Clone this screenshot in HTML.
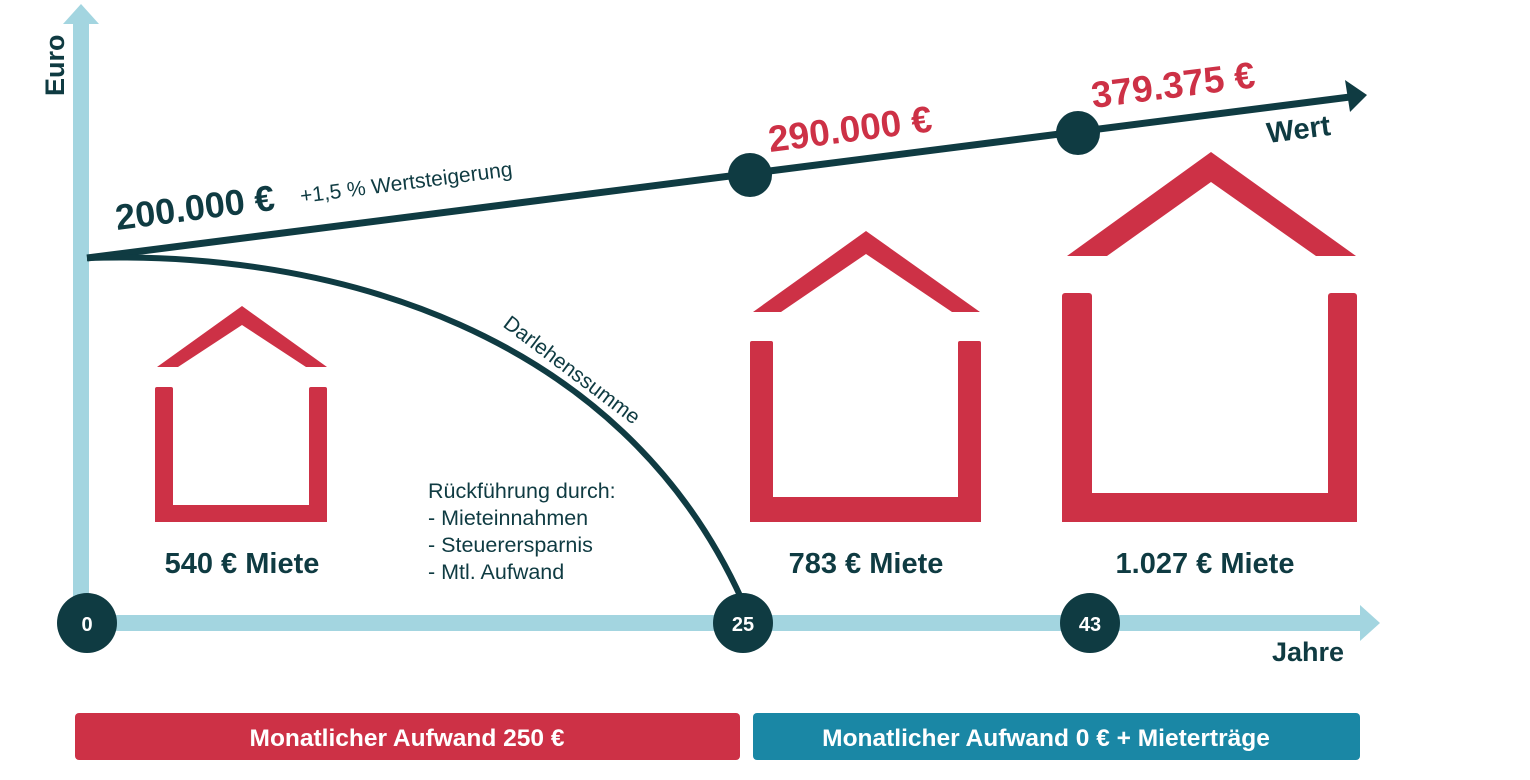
<!DOCTYPE html>
<html><head><meta charset="utf-8"><style>
html,body{margin:0;padding:0;background:#fff;}
svg{display:block;font-family:"Liberation Sans",sans-serif;}
</style></head><body>
<svg width="1530" height="780" viewBox="0 0 1530 780" xmlns="http://www.w3.org/2000/svg">
<rect x="73" y="22" width="16" height="600" fill="#a3d5e0"/>
<polygon points="81,4 99,24 63,24" fill="#a3d5e0"/>
<rect x="87" y="615" width="1275" height="16" fill="#a3d5e0"/>
<polygon points="1380,623 1360,605 1360,641" fill="#a3d5e0"/>
<text x="0" y="0" transform="translate(64,96) rotate(-90)" font-size="27" font-weight="bold" fill="#0f3b42">Euro</text>
<text x="1272" y="661" font-size="27" font-weight="bold" fill="#0f3b42">Jahre</text>
<line x1="87" y1="258" x2="1350" y2="97" stroke="#0f3b42" stroke-width="7"/>
<polygon points="1367,95 1345,80 1350,112" fill="#0f3b42"/>
<path d="M87,258 C330,250 620,330 742,600" fill="none" stroke="#0f3b42" stroke-width="6"/>
<circle cx="750" cy="175" r="22" fill="#0f3b42"/>
<circle cx="1078" cy="133" r="22" fill="#0f3b42"/>
<circle cx="87" cy="623" r="30" fill="#0f3b42"/>
<circle cx="743" cy="623" r="30" fill="#0f3b42"/>
<circle cx="1090" cy="623" r="30" fill="#0f3b42"/>
<text x="87" y="631" font-size="20" font-weight="bold" fill="#fff" text-anchor="middle">0</text>
<text x="743" y="631" font-size="20" font-weight="bold" fill="#fff" text-anchor="middle">25</text>
<text x="1090" y="631" font-size="20" font-weight="bold" fill="#fff" text-anchor="middle">43</text>
<text transform="translate(117,230) rotate(-7.3)" font-size="36" font-weight="bold" fill="#0f3b42">200.000 €</text>
<text transform="translate(301,203) rotate(-7.3)" font-size="21" fill="#0f3b42">+1,5 % Wertsteigerung</text>
<text transform="translate(770,152) rotate(-7.3)" font-size="37" font-weight="bold" fill="#cd3146">290.000 €</text>
<text transform="translate(1093,108) rotate(-7.3)" font-size="37" font-weight="bold" fill="#cd3146">379.375 €</text>
<text transform="translate(1268,143) rotate(-7.3)" font-size="29" font-weight="bold" fill="#0f3b42">Wert</text>
<text transform="translate(502,326) rotate(37)" font-size="21" fill="#0f3b42">Darlehenssumme</text>
<text font-size="21.5" fill="#0f3b42"><tspan x="428" y="498">Rückführung durch:</tspan><tspan x="428" y="525">- Mieteinnahmen</tspan><tspan x="428" y="552">- Steuerersparnis</tspan><tspan x="428" y="579">- Mtl. Aufwand</tspan></text>
<g fill="#cd3146">
<polygon points="157,367 242,306 327,367 306,367 242,325 178,367"/>
<rect x="155" y="387" width="18" height="135" rx="2"/>
<rect x="309" y="387" width="18" height="135" rx="2"/>
<rect x="155" y="505" width="172" height="17"/>
<polygon points="753,312 866,231 980,312 952,312 866,254 781,312"/>
<rect x="750" y="341" width="23" height="181" rx="2"/>
<rect x="958" y="341" width="23" height="181" rx="2"/>
<rect x="750" y="497" width="231" height="25"/>
<polygon points="1067,256 1211,152 1356,256 1316,256 1211,182 1107,256"/>
<rect x="1062" y="293" width="30" height="229" rx="3"/>
<rect x="1328" y="293" width="29" height="229" rx="3"/>
<rect x="1062" y="493" width="295" height="29"/>
</g>
<text x="242" y="573" font-size="29" font-weight="bold" fill="#0f3b42" text-anchor="middle">540 € Miete</text>
<text x="866" y="573" font-size="29" font-weight="bold" fill="#0f3b42" text-anchor="middle">783 € Miete</text>
<text x="1205" y="573" font-size="29" font-weight="bold" fill="#0f3b42" text-anchor="middle">1.027 € Miete</text>
<rect x="75" y="713" width="665" height="47" rx="4" fill="#cd3146"/>
<rect x="753" y="713" width="607" height="47" rx="4" fill="#1a87a5"/>
<text x="407" y="746" font-size="24.5" font-weight="bold" fill="#fff" text-anchor="middle">Monatlicher Aufwand 250 €</text>
<text x="1046" y="746" font-size="24.5" font-weight="bold" fill="#fff" text-anchor="middle">Monatlicher Aufwand 0 € + Mieterträge</text>
</svg>
</body></html>
